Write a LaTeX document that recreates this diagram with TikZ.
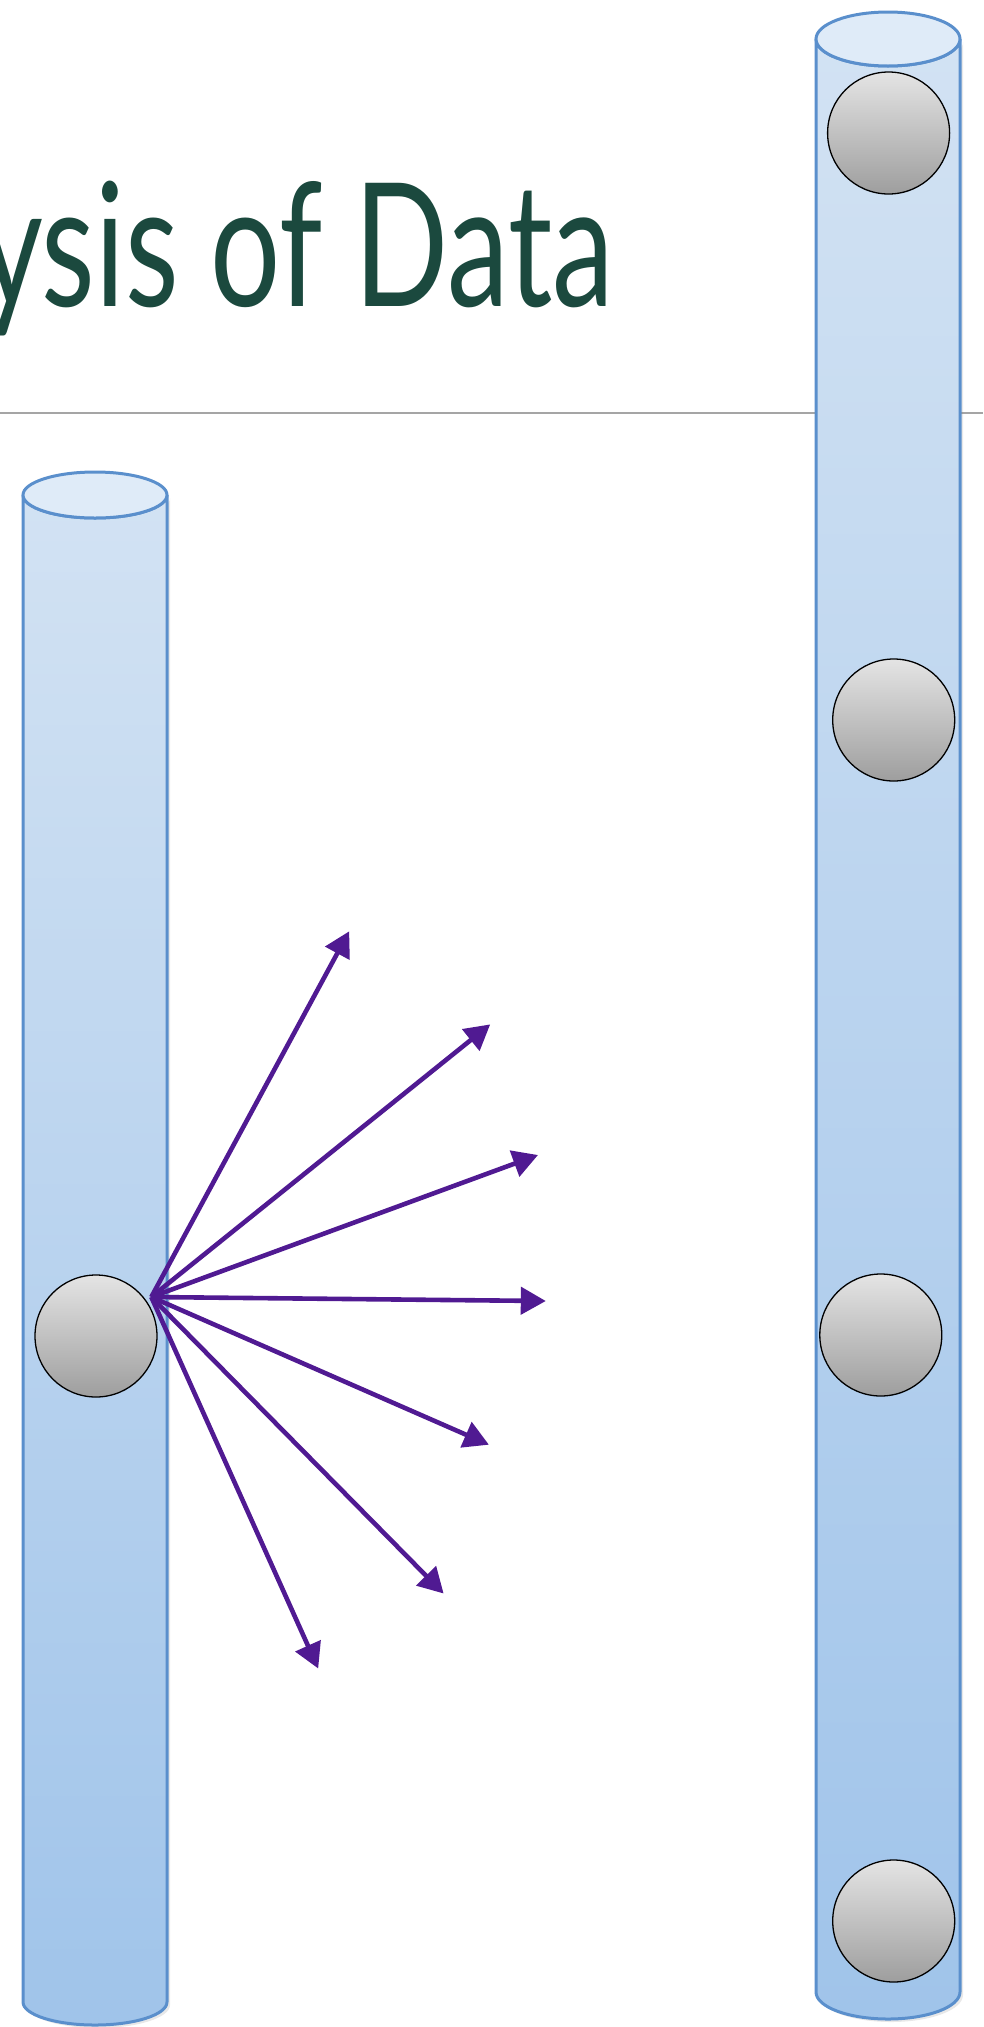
\documentclass[tikz,border=0pt]{standalone}
\usepackage{fontspec}
\usetikzlibrary{arrows.meta,shadows}
\newfontfamily\titlefont[FakeStretch=0.72]{Lato}
\definecolor{titlegreen}{RGB}{27,73,62}
\definecolor{ruleGray}{RGB}{165,165,165}
\definecolor{tubeLine}{RGB}{90,143,204}
\definecolor{tubeTop}{RGB}{210,226,243}
\definecolor{tubeBot}{RGB}{160,196,234}
\definecolor{tubeCap}{RGB}{223,235,248}
\definecolor{ballTop}{RGB}{228,228,228}
\definecolor{ballBot}{RGB}{158,158,158}
\definecolor{rayPurple}{RGB}{80,26,146}
\tikzset{
  x=1pt, y=-1pt,
  tuberim/.style={draw=tubeLine, line width=3pt},
  ball/.style={circle, draw=black, line width=1.3pt, minimum size=122pt,
    inner sep=0pt, top color=ballTop, bottom color=ballBot},
  ray/.style={draw=rayPurple, line width=4.6pt,
    -{Triangle[length=25pt,width=27pt]}},
  pics/tube/.style n args={3}{code={
    \path[tuberim, top color=tubeTop, bottom color=tubeBot,
          drop shadow={shadow xshift=3pt, shadow yshift=-3pt, opacity=0.18}]
      (-#1,0) -- (-#1,#3)
      arc[start angle=180, end angle=0, x radius=#1, y radius=#2]
      -- (#1,0)
      arc[start angle=0, end angle=180, x radius=#1, y radius=#2] -- cycle;
    \draw[tuberim, fill=tubeCap] (0,0) ellipse[x radius=#1, y radius=#2];
  }},
}
\begin{document}
\begin{tikzpicture}
\useasboundingbox (0,0) rectangle (983,2027);
\clip (0,0) rectangle (983,2027);

% heading and rule
\node[anchor=base east, inner sep=0pt, text=titlegreen,
      font=\titlefont\fontsize{172}{176}\selectfont] (title) at (614,306) {ysis of Data};
\draw[ruleGray, line width=2pt] (0,412.6) -- (983,412.6);

% left column with the emitting record
\pic (lefttube) at (95,495) {tube={72}{23}{1507}};
\node[ball] (src ball) at (96,1336) {};

% right column with its records
\pic (righttube) at (888,39) {tube={72}{27}{1953}};
\node[ball] (r1) at (888.6,133) {};
\node[ball] (r2) at (893.7,720) {};
\node[ball] (r3) at (880.8,1335) {};
\node[ball] (r4) at (893.7,1921) {};

% fan of rays
\coordinate (src) at (151.3,1297);
\coordinate (t1) at (349.2,931.3);
\coordinate (t2) at (490.2,1024.4);
\coordinate (t3) at (538,1155);
\coordinate (t4) at (545.8,1301);
\coordinate (t5) at (488.9,1444.7);
\coordinate (t6) at (443.6,1593.5);
\coordinate (t7) at (318.2,1668.5);
\foreach \t in {t1,t2,t3,t4,t5,t6,t7}
  \draw[ray] (src) -- (\t);
\end{tikzpicture}
\end{document}
